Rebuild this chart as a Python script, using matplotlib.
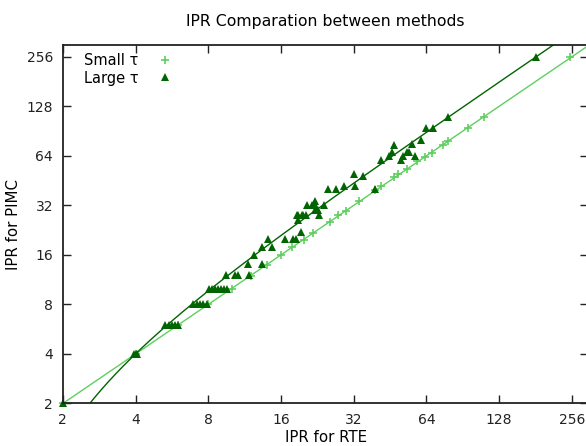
import numpy as np
import matplotlib.pyplot as plt

# small tau: points lie close to the diagonal
small_x = [2, 4, 6, 8, 10, 12, 14, 16, 17.8, 19.9, 21.7, 25.5, 27.6, 29.8,
           33.7, 39.2, 41.5, 47, 49, 53, 58.6, 63, 67.5, 75, 78.7, 95, 111, 252]
small_y = [2, 4, 6, 8, 9.9, 11.9, 13.9, 16, 17.8, 19.8, 21.8, 25.3, 27.8, 29.6,
           33.8, 39.5, 41.8, 47.4, 49.4, 53.5, 59.3, 62.7, 67, 75, 79, 95, 111, 256]

# large tau
large_x = [2, 3.94, 4, 4.05,
           5.3, 5.5, 5.67, 5.83, 6.0,
           6.92, 7.19, 7.40, 7.62, 7.91,
           8.06, 8.3, 8.54, 8.78, 9.04, 9.3, 9.57,
           9.5, 10.3, 10.6, 11.8, 11.7, 13.4, 12.4, 13.4, 14.2, 14.7,
           16.6, 18.0, 18.5, 19.4, 18.8, 18.8, 19.7, 20.3, 20.5, 21.5,
           22.1, 22.1, 22.8, 23.0, 24.1, 25.1, 27.1, 18.65, 19.6, 22.1,
           29.2, 32.1, 32.4, 35.0, 39.2, 41.4, 44.8, 46.1, 47.0, 50.3,
           51.2, 53.2, 54.2, 55.8, 57.4, 60.8, 63.8, 68.2, 78.7, 182]
large_y = [2, 4, 4, 4,
           6, 6, 6, 6, 6,
           8, 8, 8, 8, 8,
           10, 10, 10, 10, 10, 10, 10,
           12, 12, 12, 12, 14, 14, 16, 18, 20, 18,
           20, 20, 20, 22, 28, 26, 28, 28, 32, 32,
           34, 32, 30, 28, 32, 40, 40, 28, 28, 30,
           42, 50, 42, 48, 40, 60, 64, 68, 75, 60,
           64, 68, 68, 76, 64, 80, 95, 95, 111, 256]

# fitted lines y = a*x + b
small_fit = (1.0, 0.0)
large_fit = (1.416, -1.66)

ticks = [2, 4, 8, 16, 32, 64, 128, 256]

light = '#5ecf5e'
dark = '#006400'

plt.rcParams['font.family'] = 'DejaVu Sans'
plt.rcParams['font.size'] = 10

fig = plt.figure(figsize=(5.86, 4.46), dpi=100)
ax = fig.add_axes([0.1072, 0.0953, 0.897, 0.8027])

xs = np.logspace(1, np.log2(300), 400, base=2)
ax.plot(xs, small_fit[0] * xs + small_fit[1], color=light, lw=1)
ax.plot(xs, large_fit[0] * xs + large_fit[1], color=dark, lw=1)

ax.plot(small_x, small_y, '+', color=light, ms=6, mew=1.2, label='Small τ',
        clip_on=False)
ax.plot(large_x, large_y, '^', color=dark, ms=5.5, mew=0, label='Large τ',
        clip_on=False)

ax.set_xscale('log', base=2)
ax.set_yscale('log', base=2)
ax.set_xlim(2, 300)
ax.set_ylim(2, 300)
ax.set_xticks(ticks)
ax.set_yticks(ticks)
ax.set_xticklabels([str(t) for t in ticks])
ax.set_yticklabels([str(t) for t in ticks])
ax.minorticks_off()
ax.tick_params(direction='in', length=6, width=1, top=True, right=True,
               labelsize=10, pad=7, colors='#222222')
for s in ax.spines.values():
    s.set_linewidth(1.3)
    s.set_color('#222222')

ax.set_title('IPR Comparation between methods', fontsize=11.3, pad=14)
ax.set_xlabel('IPR for RTE', fontsize=10.8, labelpad=2)
ax.set_ylabel('IPR for PIMC', fontsize=10.8, labelpad=4)

ax.legend(loc='upper left', bbox_to_anchor=(0.04, 0.98), markerfirst=False,
          frameon=False, handlelength=1.0, handletextpad=1.35, borderpad=0,
          labelspacing=0.2, borderaxespad=0, fontsize=10.5)

fig.savefig('out.png', dpi=100)
